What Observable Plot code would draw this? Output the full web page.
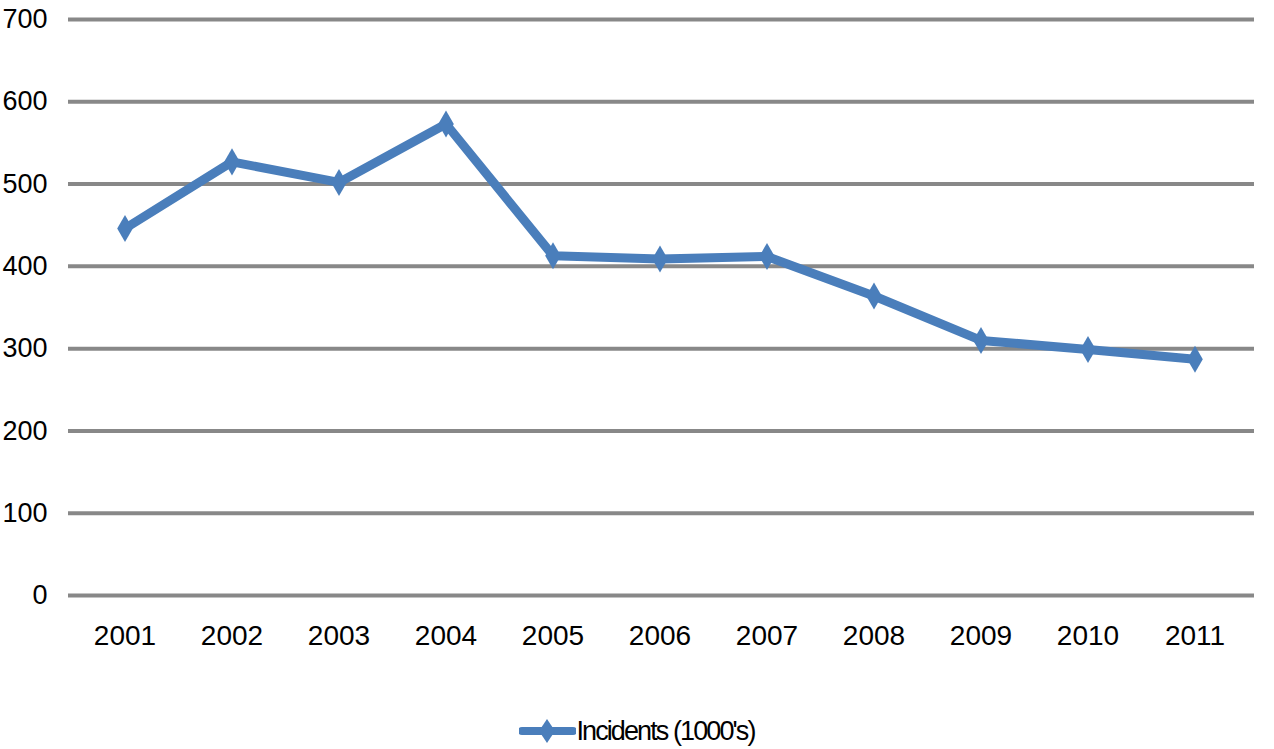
<!DOCTYPE html>
<html>
<head>
<meta charset="utf-8">
<script src="https://cdn.jsdelivr.net/npm/d3@7"></script>
<script src="https://cdn.jsdelivr.net/npm/@observablehq/plot@0.6"></script>
<style>
  html, body { margin: 0; padding: 0; background: #fff; }
  #chart svg { display: block; }
  #legend { display: flex; justify-content: center; align-items: center; height: 30px; font-family: "Liberation Sans", Arial, sans-serif; font-size: 27px; letter-spacing: -1.9px; color: #000; }
  #legend svg { display: block; }
</style>
</head>
<body>
<div id="chart"></div>
<div id="legend"></div>
<script>
const years = ["2001","2002","2003","2004","2005","2006","2007","2008","2009","2010","2011"];
const incidents = [446, 527, 502, 573, 413, 409, 412, 364, 310, 299, 287];
const yTicks = [0, 100, 200, 300, 400, 500, 600, 700];
const seriesName = "Incidents (1000's)";
const lineColor = "#4a7ebb";

const data = years.map((y, i) => ({year: y, value: incidents[i]}));

const chart = Plot.plot({
  width: 1274,
  height: 716,
  marginTop: 19,
  marginBottom: 121,
  marginLeft: 68,
  marginRight: 20,
  style: {fontFamily: "Liberation Sans, Arial, sans-serif", fontSize: "27px", color: "#000", background: "#fff"},
  x: {type: "band", domain: years, padding: 0, range: [67, 1252], label: null},
  y: {domain: [0, 700], label: null},
  marks: [
    Plot.ruleY(yTicks, {stroke: "#888888", strokeWidth: 4}),
    Plot.axisY({ticks: yTicks, tickSize: 0, tickPadding: 21, fontSize: 27, style: "letter-spacing:-2.5px", textAnchor: "end"}),
    Plot.axisX({tickSize: 0, tickPadding: 30, fontSize: 28}),
    Plot.line(data, {x: "year", y: "value", stroke: lineColor, strokeWidth: 9, strokeLinejoin: "miter"}),
    Plot.dot(data, {x: "year", y: "value", symbol: "diamond", r: 8.2, fill: lineColor, stroke: "none"})
  ]
});
document.getElementById("chart").append(chart);

const legend = document.getElementById("legend");
legend.innerHTML = `<svg width="57" height="30" viewBox="0 0 57 30"><line x1="3" y1="15" x2="54" y2="15" stroke="${lineColor}" stroke-width="8" stroke-linecap="round"/><path d="M28,3 L36,15 L28,27 L20,15 Z" fill="${lineColor}"/></svg><span>${seriesName}</span>`;
</script>
</body>
</html>
